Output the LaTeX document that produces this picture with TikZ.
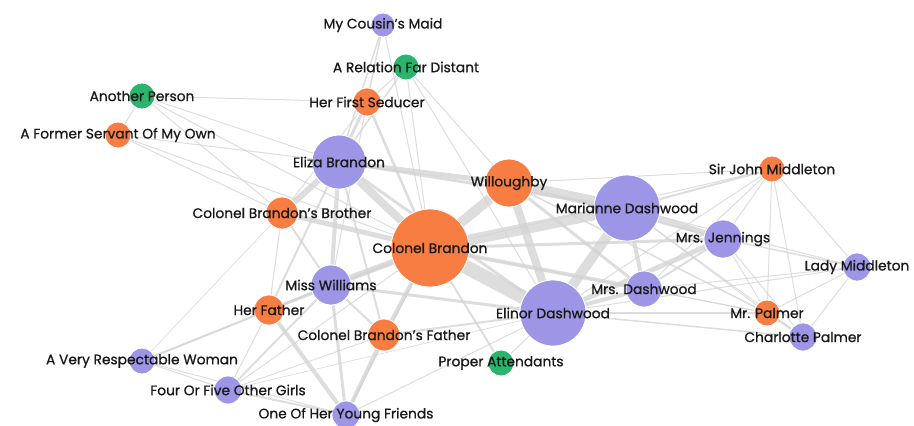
\documentclass[tikz,border=0pt]{standalone}
\usepackage{fontspec}
\setmainfont{Poppins}[BoldFont=Poppins,BoldFeatures={FakeBold=0.9}]
\usepackage{tikz}
\usetikzlibrary{backgrounds}

\definecolor{lav}{HTML}{9D95E6}
\definecolor{tang}{HTML}{F77D43}
\definecolor{jade}{HTML}{2BB46D}
\definecolor{link}{HTML}{D2D2D2}

\begin{document}
\begin{tikzpicture}[x=1pt,y=-1pt,
  person/.style={circle,draw=white,line width=0.8pt,inner sep=0pt},
  tag/.style={font=\fontsize{13.8}{14}\selectfont\bfseries,text=black!90,inner sep=0pt},
  edge/.style={draw=link,opacity=0.75}]
\useasboundingbox (0,0) rectangle (914,426);
% characters: name / x / y / radius / colour
\foreach \n/\x/\y/\r/\c in {
  maid/383/25/12/lav, rel/406/67/13/jade, another/142/96/13/jade,
  seducer/367/102/14/tang, servant/118/135/13/tang, eliza/339/162/27/lav,
  brother/282/213/16/tang, willo/509/183/24/tang, marianne/627/208/33/lav,
  john/772/169/13/tang, brandon/430/248/39/tang, jennings/723/239/19/lav,
  lady/857/267/14/lav, williams/331/285/20/lav, hfather/269/310/15/tang,
  mrsd/644/289/18/lav, elinor/553/313/33/lav, mrp/767/313/13/tang,
  charlotte/803/337/14/lav, bfather/384/335/16/tang, attend/501/363/13/jade,
  woman/142/361/13/lav, girls/228/390/14/lav, friends/346/415/14/lav}
  \node[person,fill=\c,minimum size=2*\r] (\n) at (\x,\y) {};
% names on top
\foreach \n/\t in {
  maid/My Cousin's Maid, rel/A Relation Far Distant, another/Another Person,
  seducer/Her First Seducer, servant/A Former Servant Of My Own,
  eliza/Eliza Brandon, brother/Colonel Brandon's Brother, willo/Willoughby,
  marianne/Marianne Dashwood, john/Sir John Middleton, brandon/Colonel Brandon,
  jennings/Mrs. Jennings, lady/Lady Middleton, williams/Miss Williams,
  hfather/Her Father, mrsd/Mrs. Dashwood, elinor/Elinor Dashwood,
  mrp/Mr. Palmer, charlotte/Charlotte Palmer, bfather/Colonel Brandon's Father,
  attend/Proper Attendants, woman/A Very Respectable Woman,
  girls/Four Or Five Other Girls, friends/One Of Her Young Friends}
  \node[tag] (\n-t) at (\n) {\t};
% co-occurrence links, width in px
\begin{scope}[on background layer]
\foreach \a/\b/\w in {
  brandon/elinor/14, brandon/marianne/11, brandon/willo/10, willo/marianne/10,
  marianne/elinor/10, willo/elinor/8, brandon/eliza/8, eliza/brother/6,
  brandon/williams/6, marianne/jennings/6, brandon/brother/5, eliza/willo/5,
  elinor/jennings/5, eliza/williams/4, brandon/bfather/4, brandon/mrsd/4,
  marianne/mrsd/4, elinor/mrsd/4, hfather/friends/4, bfather/friends/4,
  eliza/marianne/3, eliza/elinor/3, brandon/hfather/3, brandon/jennings/3,
  willo/mrsd/3, elinor/williams/3, williams/friends/3, seducer/eliza/3,
  seducer/brandon/2.5, eliza/bfather/2, eliza/hfather/2, brother/williams/2,
  willo/jennings/2, brandon/attend/2, brandon/friends/2, marianne/john/2,
  elinor/bfather/2, jennings/mrsd/2, mrp/charlotte/2, williams/hfather/2,
  williams/bfather/2, williams/girls/2, hfather/woman/2, girls/friends/2,
  maid/eliza/1.5, maid/seducer/1.5, maid/brandon/1, rel/seducer/1,
  rel/eliza/1.5, rel/brandon/1, rel/willo/1, rel/elinor/1, seducer/brother/1,
  seducer/williams/1, another/seducer/1, another/servant/1, another/eliza/1,
  another/brother/1, another/brandon/1, servant/eliza/1, servant/brandon/1,
  servant/brother/1, brother/woman/0.7, brother/hfather/1, willo/john/1,
  willo/mrp/1.5, brandon/girls/1, brandon/john/1, brandon/mrp/1,
  marianne/lady/1, marianne/mrp/1, marianne/charlotte/1, elinor/john/1,
  elinor/lady/1, elinor/mrp/1.5, elinor/charlotte/1.5, elinor/attend/1,
  jennings/john/1, jennings/lady/1.5, jennings/mrp/1, jennings/charlotte/1,
  john/lady/1, john/mrp/1, john/charlotte/1, john/mrsd/1, lady/mrp/1,
  lady/charlotte/1, lady/mrsd/1, williams/woman/1, hfather/girls/1,
  bfather/girls/1, woman/girls/1, woman/friends/1, friends/elinor/1,
  girls/elinor/0.7, mrsd/mrp/1}
  \draw[edge,line width=\w pt] (\a) -- (\b);
\end{scope}
\end{tikzpicture}
\end{document}
